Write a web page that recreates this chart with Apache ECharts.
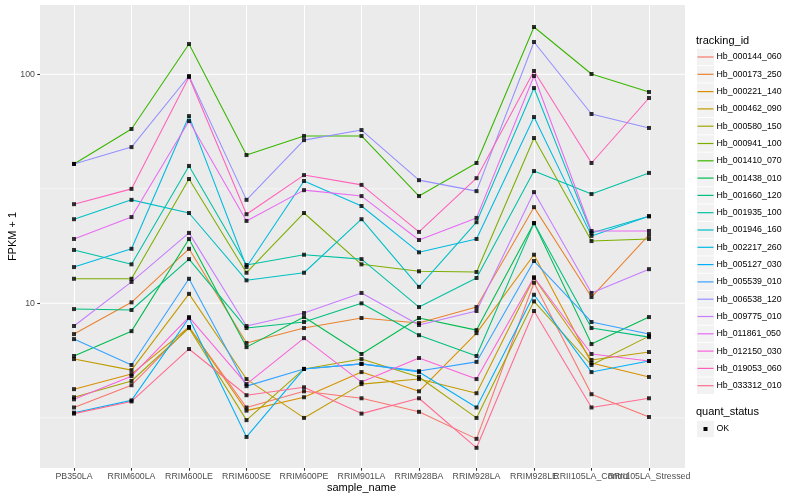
<!DOCTYPE html>
<html><head><meta charset="utf-8">
<script src="https://cdn.jsdelivr.net/npm/echarts@6/dist/echarts.min.js"></script>
<style>html,body{margin:0;padding:0;background:#fff}#c{width:800px;height:500px}</style>
</head><body><div id="c"></div>
<script>
const categories = ['PB350LA','RRIM600LA','RRIM600LE','RRIM600SE','RRIM600PE','RRIM901LA','RRIM928BA','RRIM928LA','RRIM928LE','RRII105LA_Control','RRII105LA_Stressed'];
const trackingIds = ['Hb_000144_060','Hb_000173_250','Hb_000221_140','Hb_000462_090','Hb_000580_150','Hb_000941_100','Hb_001410_070','Hb_001438_010','Hb_001660_120','Hb_001935_100','Hb_001946_160','Hb_002217_260','Hb_005127_030','Hb_005539_010','Hb_006538_120','Hb_009775_010','Hb_011861_050','Hb_012150_030','Hb_019053_060','Hb_033312_010'];
const colors = ['#F8766D','#EA8331','#D89000','#C09B00','#A3A500','#7CAE00','#39B600','#00BB4E','#00BF7D','#00C1A3','#00BFC4','#00BAE0','#00B0F6','#35A2FF','#9590FF','#C77CFF','#E76BF3','#FA62DB','#FF62BC','#FF6C91'];

const hb000144_060 = [3.51, 4.39, 7.88, 3.51, 4.13, 3.85, 3.36, 2.56, 12.3, 4.01, 3.19];
const hb000173_250 = [7.34, 10.1, 17.3, 6.71, 7.80, 8.63, 8.20, 9.63, 26.3, 10.65, 19.9];
const hb000221_140 = [4.22, 4.91, 7.88, 3.40, 3.89, 5.01, 4.13, 7.41, 16.3, 5.49, 4.77];
const hb000462_090 = [5.71, 5.11, 11.0, 4.67, 3.16, 4.44, 4.67, 4.05, 12.9, 5.66, 6.13];
const hb000580_150 = [3.89, 4.58, 7.80, 3.09, 5.17, 5.71, 4.77, 3.16, 10.2, 5.38, 7.19];
const hb000941_100 = [12.8, 12.8, 34.9, 13.6, 24.8, 14.8, 13.8, 13.7, 52.7, 18.7, 19.1];
const hb001410_070 = [40.6, 57.7, 135.6, 44.4, 53.8, 53.8, 29.4, 41.0, 160.9, 100.3, 83.7];
const hb001438_010 = [5.89, 7.56, 19.1, 6.44, 8.71, 6.01, 8.63, 7.64, 22.4, 6.64, 8.71];
const hb001660_120 = [9.44, 9.35, 15.6, 7.80, 8.29, 10.0, 7.26, 5.89, 22.4, 7.80, 7.12];
const hb001935_100 = [17.1, 14.8, 39.8, 14.7, 16.3, 15.6, 9.63, 12.9, 37.8, 30.0, 37.1];
const hb001946_160 = [23.3, 28.3, 24.8, 12.6, 13.6, 23.3, 11.8, 22.6, 87.1, 20.3, 24.0];
const hb002217_260 = [14.4, 17.3, 65.7, 14.4, 34.2, 26.6, 16.7, 19.1, 65.1, 19.7, 24.0];
const hb005127_030 = [3.33, 3.77, 8.63, 2.61, 5.17, 5.44, 5.01, 3.51, 10.9, 5.01, 5.60];
const hb005539_010 = [6.98, 5.38, 12.8, 4.35, 5.17, 5.44, 5.06, 5.55, 15.3, 8.29, 7.34];
const hb006538_120 = [40.6, 48.1, 98.3, 28.3, 51.6, 57.1, 34.5, 30.9, 138.4, 67.1, 58.3];
const hb009775_010 = [7.96, 12.4, 20.3, 7.96, 9.07, 11.1, 8.04, 9.26, 30.6, 11.1, 14.1];
const hb011861_050 = [19.1, 23.8, 62.5, 22.9, 31.2, 29.4, 18.9, 23.6, 98.3, 20.7, 20.7];
const hb012150_030 = [3.81, 4.81, 8.71, 4.44, 7.05, 4.53, 5.77, 4.67, 13.0, 6.01, 5.60];
const hb019053_060 = [27.1, 31.6, 97.3, 24.5, 36.3, 32.9, 20.5, 35.2, 103.4, 41.0, 78.8];
const hb033312_010 = [3.30, 3.73, 6.32, 3.97, 4.30, 3.30, 3.85, 2.34, 9.26, 3.51, 3.85];

const yTickValues = [10, 100];
const yMinorBreaks = [3.1623, 31.623];
const quantStatus = ['OK'];

const seriesValues = [hb000144_060, hb000173_250, hb000221_140, hb000462_090, hb000580_150, hb000941_100, hb001410_070, hb001438_010, hb001660_120, hb001935_100, hb001946_160, hb002217_260, hb005127_030, hb005539_010, hb006538_120, hb009775_010, hb011861_050, hb012150_030, hb019053_060, hb033312_010];

const FONT = '"Liberation Sans", Arial, Helvetica, sans-serif';
const chart = echarts.init(document.getElementById('c'));

const lineSeries = trackingIds.map((name, i) => ({
  type: 'line', name: name, data: seriesValues[i],
  showSymbol: false, symbol: 'none', silent: true, animation: false,
  lineStyle: { color: colors[i], width: 1.07 }, itemStyle: { color: colors[i] }, z: 2
}));
const pointData = [];
seriesValues.forEach(vals => vals.forEach((v, j) => pointData.push([categories[j], v])));

chart.setOption({
  animation: false,
  grid: { left: 74, right: 151, top: 5, bottom: 32, containLabel: false, outerBoundsMode: 'none' },
  xAxis: {
    type: 'category', data: categories, boundaryGap: false,
    axisLine: { show: false },
    axisTick: { show: true, length: 2.75, lineStyle: { color: '#333333', width: 1.07 } },
    axisLabel: { interval: 0, color: '#4D4D4D', fontSize: 8.8, margin: 4, fontFamily: FONT },
    splitLine: { show: true, lineStyle: { color: '#FFFFFF', width: 1.07 } },
    name: 'sample_name', nameLocation: 'middle', nameGap: 14.5, nameMoveOverlap: false,
    nameTextStyle: { color: '#000', fontSize: 11, fontFamily: FONT }
  },
  yAxis: {
    type: 'log', logBase: 10, min: 1.91, max: 200.7, offset: 34,
    axisLine: { show: false },
    axisTick: { show: true, length: 2.75, customValues: yTickValues, lineStyle: { color: '#333333', width: 1.07 } },
    axisLabel: { customValues: yTickValues, color: '#4D4D4D', fontSize: 8.8, margin: 5, fontFamily: FONT },
    splitLine: { show: false }, minorSplitLine: { show: false },
    name: 'FPKM + 1', nameLocation: 'middle', nameGap: 22, nameMoveOverlap: false,
    nameTextStyle: { color: '#000', fontSize: 11, fontFamily: FONT }
  },
  series: lineSeries.concat([{
    type: 'scatter', name: quantStatus[0], data: pointData, symbol: 'rect', symbolSize: 4,
    itemStyle: { color: '#000' }, silent: true, z: 3
  }])
});

// panel background and horizontal grid lines, positioned through the axis scale
const gfx = [{ type: 'rect', z: -10, shape: { x: 40, y: 5, width: 645, height: 463 }, style: { fill: '#EBEBEB' } }];
yMinorBreaks.forEach(v => {
  const py = chart.convertToPixel({ yAxisIndex: 0 }, v);
  gfx.push({ type: 'line', z: -9, shape: { x1: 40, y1: py, x2: 685, y2: py }, style: { stroke: '#FFFFFF', lineWidth: 0.53 } });
});
yTickValues.forEach(v => {
  const py = chart.convertToPixel({ yAxisIndex: 0 }, v);
  gfx.push({ type: 'line', z: -9, shape: { x1: 40, y1: py, x2: 685, y2: py }, style: { stroke: '#FFFFFF', lineWidth: 1.07 } });
});

// legend (ggplot style)
const LX = 697, rowH = 17.3, firstY = 57;
gfx.push({ type: 'text', z: 5, style: { text: 'tracking_id', x: 696, y: 41, fill: '#000', fontSize: 11, fontFamily: FONT, verticalAlign: 'middle' } });
trackingIds.forEach((name, i) => {
  const cy = firstY + i * rowH;
  gfx.push({ type: 'rect', z: 5, shape: { x: LX, y: cy - 8.2, width: 17, height: 16.4 }, style: { fill: '#F2F2F2' } });
  gfx.push({ type: 'line', z: 6, shape: { x1: LX + 0.5, y1: cy, x2: LX + 16.5, y2: cy }, style: { stroke: colors[i], lineWidth: 1.2 } });
  gfx.push({ type: 'text', z: 6, style: { text: name, x: 716.5, y: cy, fill: '#000', fontSize: 8.8, fontFamily: FONT, verticalAlign: 'middle' } });
});
gfx.push({ type: 'text', z: 5, style: { text: 'quant_status', x: 696, y: 412, fill: '#000', fontSize: 11, fontFamily: FONT, verticalAlign: 'middle' } });
gfx.push({ type: 'rect', z: 5, shape: { x: LX, y: 420.8, width: 17, height: 16.4 }, style: { fill: '#F2F2F2' } });
gfx.push({ type: 'rect', z: 6, shape: { x: LX + 6.5, y: 427, width: 4, height: 4 }, style: { fill: '#000' } });
gfx.push({ type: 'text', z: 6, style: { text: quantStatus[0], x: 716.5, y: 429, fill: '#000', fontSize: 8.8, fontFamily: FONT, verticalAlign: 'middle' } });

chart.setOption({ graphic: gfx });
</script>
</body></html>
